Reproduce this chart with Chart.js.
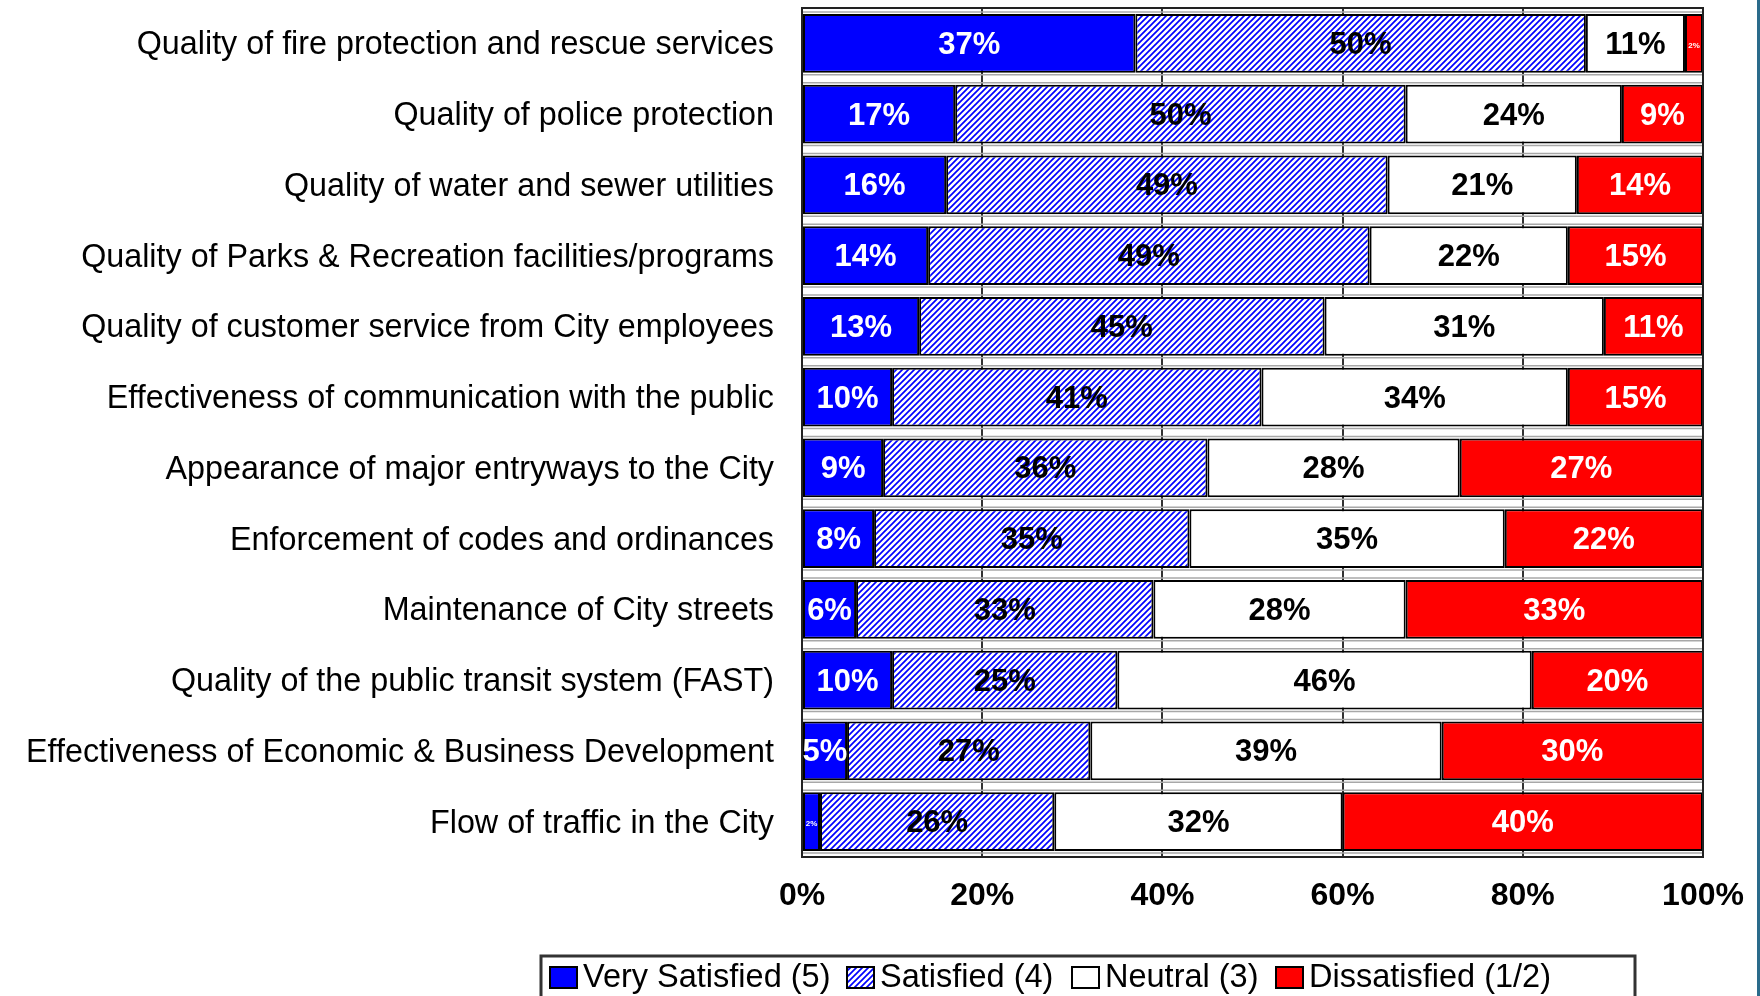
<!DOCTYPE html>
<html>
<head>
<meta charset="utf-8">
<script src="https://cdn.jsdelivr.net/npm/chart.js@4/dist/chart.umd.min.js"></script>
<style>
html,body{margin:0;padding:0;background:#fff;}
canvas{display:block;}
</style>
</head>
<body>
<canvas id="c" width="1760" height="996"></canvas>
<script>
const categories = [
  "Quality of fire protection and rescue services",
  "Quality of police protection",
  "Quality of water and sewer utilities",
  "Quality of Parks & Recreation facilities/programs",
  "Quality of customer service from City employees",
  "Effectiveness of communication with the public",
  "Appearance of major entryways to the City",
  "Enforcement of codes and ordinances",
  "Maintenance of City streets",
  "Quality of the public transit system (FAST)",
  "Effectiveness of Economic & Business Development",
  "Flow of traffic in the City"
];
const verySatisfied = [37, 17, 16, 14, 13, 10, 9, 8, 6, 10, 5, 2];
const satisfied     = [50, 50, 49, 49, 45, 41, 36, 35, 33, 25, 27, 26];
const neutral       = [11, 24, 21, 22, 31, 34, 28, 35, 28, 46, 39, 32];
const dissatisfied  = [2, 9, 14, 15, 11, 15, 27, 22, 33, 20, 30, 40];
const seriesNames = ["Very Satisfied (5)", "Satisfied (4)", "Neutral (3)", "Dissatisfied (1/2)"];
const tickValues = [0, 20, 40, 60, 80, 100];

const FONT = '"Liberation Sans", Arial, sans-serif';

function makeHatch() {
  const c = document.createElement('canvas');
  c.width = 6; c.height = 6;
  const g = c.getContext('2d');
  g.fillStyle = '#ffffff';
  g.fillRect(0, 0, 6, 6);
  g.strokeStyle = '#0000ff';
  g.lineWidth = 1.7;
  g.beginPath();
  g.moveTo(-1, 7); g.lineTo(7, -1);
  g.moveTo(-4, 4); g.lineTo(4, -4);
  g.moveTo(2, 10); g.lineTo(10, 2);
  g.stroke();
  return g.createPattern(c, 'repeat');
}
const hatch = makeHatch();

const labelColors = ['#ffffff', '#000000', '#000000', '#ffffff'];
const legendX = [550, 847, 1072, 1276];

const stripPlugin = {
  id: 'strips',
  beforeDatasetsDraw(chart) {
    const ctx = chart.ctx, a = chart.chartArea;
    const meta = chart.getDatasetMeta(0);
    ctx.save();
    ctx.strokeStyle = '#a8a8a8';
    ctx.lineWidth = 1.5;
    meta.data.forEach(el => {
      const p = el.getProps(['y', 'height'], true);
      const top = p.y - p.height / 2;
      const bot = p.y + p.height / 2;
      ctx.beginPath();
      ctx.moveTo(a.left, top - 2); ctx.lineTo(a.right, top - 2);
      ctx.stroke();
      ctx.beginPath();
      ctx.moveTo(a.left, bot + 2); ctx.lineTo(a.right, bot + 2);
      ctx.stroke();
    });
    ctx.restore();
  },
  afterDatasetsDraw(chart) {
    const ctx = chart.ctx, a = chart.chartArea;
    ctx.save();
    ctx.strokeStyle = '#222';
    ctx.lineWidth = 2;
    ctx.strokeRect(a.left, a.top, a.right - a.left, a.bottom - a.top);
    ctx.textAlign = 'center';
    ctx.textBaseline = 'middle';
    chart.data.datasets.forEach((ds, di) => {
      const meta = chart.getDatasetMeta(di);
      meta.data.forEach((el, i) => {
        const p = el.getProps(['x', 'base', 'y'], true);
        const x0 = Math.max(Math.min(p.x, p.base), a.left);
        const x1 = Math.min(Math.max(p.x, p.base), a.right);
        const w = x1 - x0;
        const v = ds.data[i];
        const small = w < 30;
        ctx.font = (small ? 'bold 8px ' : 'bold 31px ') + FONT;
        ctx.fillStyle = labelColors[di];
        ctx.fillText(v + '%', (x0 + x1) / 2, p.y + 2);
      });
    });
    ctx.restore();
  },
  afterDraw(chart) {
    const ctx = chart.ctx;
    ctx.save();
    ctx.strokeStyle = '#333';
    ctx.lineWidth = 3;
    ctx.strokeRect(541, 956, 1094, 80);
    ctx.font = '32.5px ' + FONT;
    ctx.textBaseline = 'middle';
    ctx.textAlign = 'left';
    chart.data.datasets.forEach((ds, i) => {
      const x = legendX[i];
      ctx.fillStyle = ds.backgroundColor;
      ctx.fillRect(x, 967, 27, 21);
      ctx.strokeStyle = '#000';
      ctx.lineWidth = 2;
      ctx.strokeRect(x, 967, 27, 21);
      ctx.fillStyle = '#000';
      ctx.fillText(ds.label, x + 33, 978);
    });
    ctx.fillStyle = '#2a6b8b';
    ctx.fillRect(1757, 0, 3, 996);
    ctx.restore();
  }
};

const common = { borderColor: '#000', borderWidth: 2, borderSkipped: false, categoryPercentage: 1, barPercentage: 0.833 };

new Chart(document.getElementById('c'), {
  type: 'bar',
  data: {
    labels: categories,
    datasets: [
      Object.assign({ label: seriesNames[0], data: verySatisfied, backgroundColor: '#0000ff' }, common),
      Object.assign({ label: seriesNames[1], data: satisfied, backgroundColor: hatch }, common),
      Object.assign({ label: seriesNames[2], data: neutral, backgroundColor: '#ffffff' }, common),
      Object.assign({ label: seriesNames[3], data: dissatisfied, backgroundColor: '#ff0000' }, common)
    ]
  },
  options: {
    indexAxis: 'y',
    responsive: false,
    animation: false,
    devicePixelRatio: 1,
    layout: { padding: { left: 0, top: 8, right: 57, bottom: 0 } },
    plugins: { legend: { display: false }, tooltip: { enabled: false } },
    scales: {
      x: {
        stacked: true,
        min: 0, max: 100,
        afterBuildTicks(scale) { scale.ticks = tickValues.map(v => ({ value: v })); },
        afterFit(scale) { scale.height = 139; scale.paddingLeft = 0; scale.paddingRight = 0; },
        grid: { color: '#333', lineWidth: 2, drawTicks: false },
        border: { display: false },
        ticks: {
          padding: 20,
          color: '#000',
          font: { family: FONT, size: 32, weight: 'bold' },
          callback: v => v + '%'
        }
      },
      y: {
        stacked: true,
        afterFit(scale) { scale.width = 802; scale.paddingTop = 0; scale.paddingBottom = 0; },
        grid: { display: false, drawTicks: false },
        border: { display: false },
        ticks: {
          padding: 28,
          labelOffset: 2,
          color: '#000',
          font: { family: FONT, size: 32.3 }
        }
      }
    }
  },
  plugins: [stripPlugin]
});
</script>
</body>
</html>
